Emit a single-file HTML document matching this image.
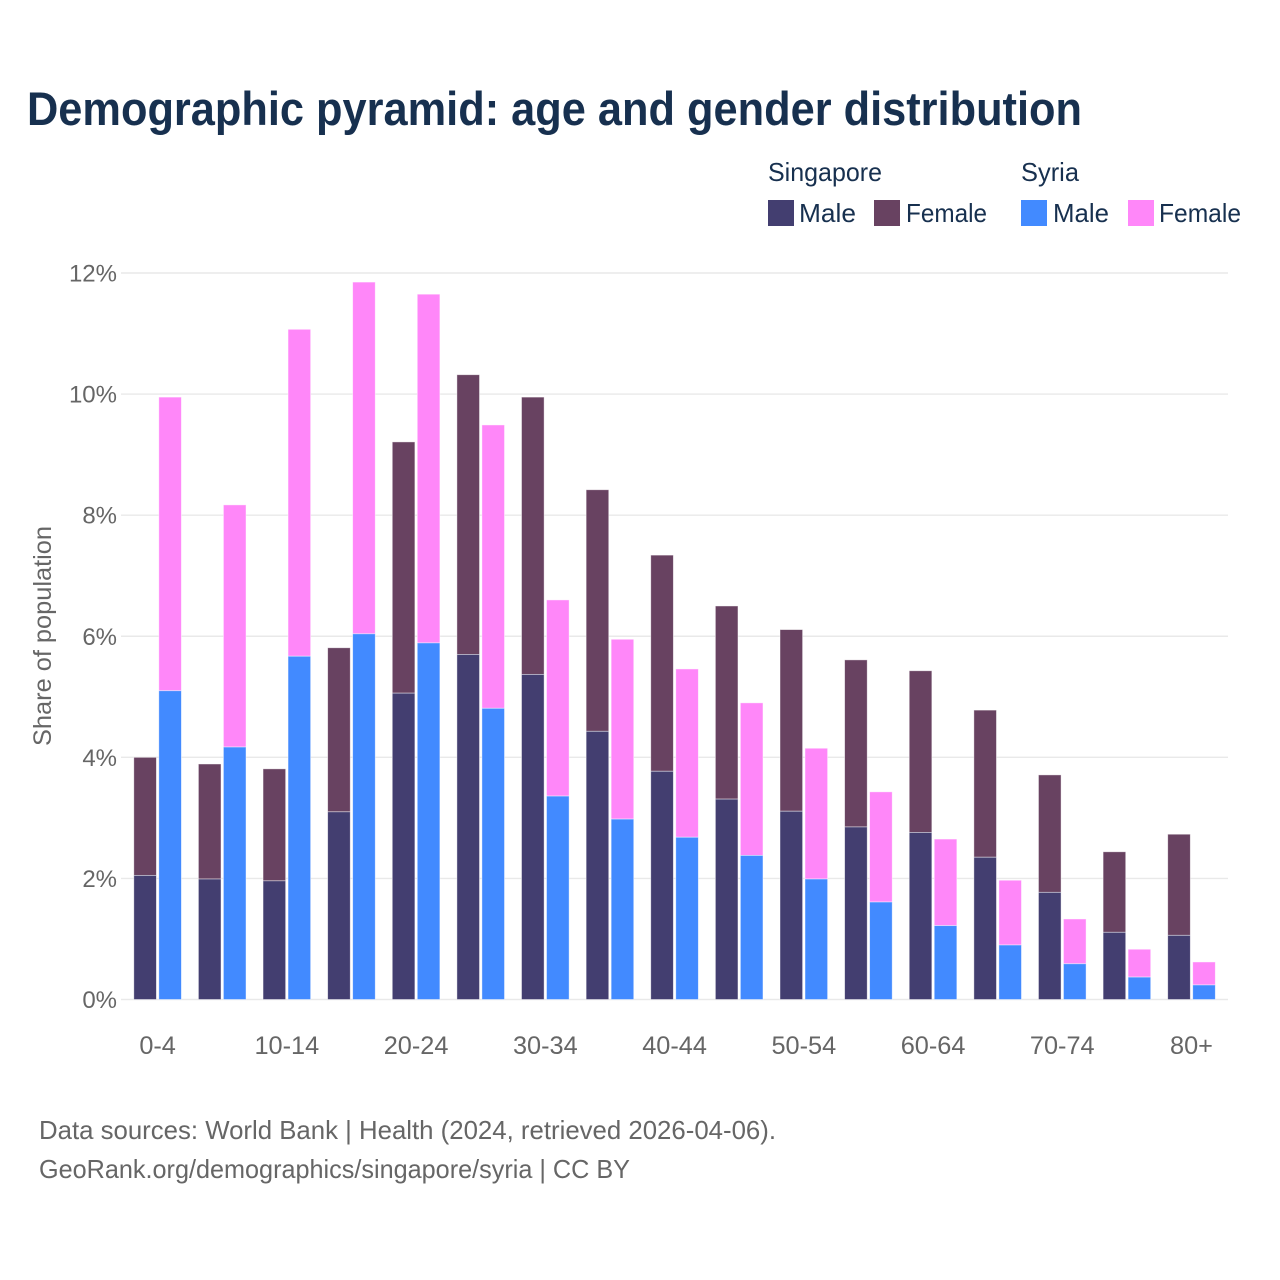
<!DOCTYPE html>
<html lang="en">
<head>
<meta charset="utf-8">
<title>Demographic pyramid</title>
<style>
html,body{margin:0;padding:0;background:#fff;}
svg{display:block;font-family:"Liberation Sans",sans-serif;}
</style>
</head>
<body>
<svg id="chart" xmlns="http://www.w3.org/2000/svg" width="1280" height="1280" viewBox="0 0 1280 1280">
<rect width="1280" height="1280" fill="#ffffff"/>
<text x="27" y="125" font-size="47" font-weight="700" fill="#17304f" textLength="1055" lengthAdjust="spacingAndGlyphs">Demographic pyramid: age and gender distribution</text>
<g font-size="26" fill="#17304f">
<text x="768" y="181" textLength="114" lengthAdjust="spacingAndGlyphs">Singapore</text>
<text x="1021" y="181" textLength="58" lengthAdjust="spacingAndGlyphs">Syria</text>
<rect x="768" y="200" width="26" height="26" fill="#433e70"/>
<text x="799" y="222" textLength="57" lengthAdjust="spacingAndGlyphs">Male</text>
<rect x="874" y="200" width="26" height="26" fill="#684261"/>
<text x="906" y="222" textLength="81" lengthAdjust="spacingAndGlyphs">Female</text>
<rect x="1021" y="200" width="26" height="26" fill="#428aff"/>
<text x="1053" y="222" textLength="56" lengthAdjust="spacingAndGlyphs">Male</text>
<rect x="1128" y="200" width="26" height="26" fill="#ff87f9"/>
<text x="1159" y="222" textLength="82" lengthAdjust="spacingAndGlyphs">Female</text>
</g>
<g id="grid"></g>
<g id="bars"></g>
<g id="yticks"></g>
<g id="xticks"></g>
<text transform="translate(51,746) rotate(-90)" font-size="25" fill="#666666" textLength="220" lengthAdjust="spacingAndGlyphs">Share of population</text>
<text x="39" y="1139" font-size="26" fill="#666666" textLength="737" lengthAdjust="spacingAndGlyphs">Data sources: World Bank | Health (2024, retrieved 2026-04-06).</text>
<text x="39" y="1178" font-size="26" fill="#666666" textLength="591" lengthAdjust="spacingAndGlyphs">GeoRank.org/demographics/singapore/syria | CC BY</text>
</svg>
<script>
const categories = ['0-4','5-9','10-14','15-19','20-24','25-29','30-34','35-39','40-44','45-49','50-54','55-59','60-64','65-69','70-74','75-79','80+'];
const singaporeMale = [2.05,1.99,1.96,3.10,5.06,5.70,5.37,4.43,3.77,3.31,3.11,2.85,2.76,2.35,1.77,1.11,1.06];
const singaporeFemale = [1.95,1.90,1.85,2.71,4.15,4.62,4.58,3.99,3.57,3.19,3.00,2.76,2.67,2.43,1.94,1.33,1.67];
const syriaMale = [5.10,4.17,5.67,6.04,5.89,4.81,3.36,2.98,2.68,2.38,1.99,1.61,1.22,0.90,0.59,0.37,0.24];
const syriaFemale = [4.85,4.00,5.40,5.81,5.76,4.68,3.24,2.97,2.78,2.52,2.16,1.82,1.43,1.07,0.74,0.46,0.38];
const yTicks = [0,2,4,6,8,10,12];
const xTickLabels = ['0-4','10-14','20-24','30-34','40-44','50-54','60-64','70-74','80+'];

const NS = 'http://www.w3.org/2000/svg';
const yScale = v => 999.5 - v * (726.5 / 12);
const xCenter = i => 157.6 + i * 64.62;
const BAR_W = 22.6;
const BAR_GAP = 2.4;

function mk(tag, attrs, parent) {
  const el = document.createElementNS(NS, tag);
  for (const k in attrs) el.setAttribute(k, attrs[k]);
  parent.appendChild(el);
  return el;
}

const gridG = document.getElementById('grid');
const yG = document.getElementById('yticks');
yTicks.forEach(t => {
  const line = mk('line', {x1: 121, x2: 1228, y1: yScale(t), y2: yScale(t), stroke: '#e9e9e9', 'stroke-width': 1.4}, gridG);
  
  
  const label = mk('text', {x: 117, y: yScale(t) + 8.5, 'text-anchor': 'end', 'font-size': 24, fill: '#666666'}, yG);
  
  
  label.textContent = t + '%';
});

const barsG = document.getElementById('bars');
function drawStack(i, x, male, female, maleColor, femaleColor) {
  const yBase = yScale(0);
  const yMale = yScale(male);
  const yTotal = yScale(male + female);
  const femaleRect = mk('rect', {x: x, y: yTotal, width: BAR_W, height: yMale - yTotal, fill: femaleColor, stroke: '#ffffff', 'stroke-opacity': 0.55, 'stroke-width': 0.8}, barsG);
  
  
  const maleRect = mk('rect', {x: x, y: yMale, width: BAR_W, height: yBase - yMale, fill: maleColor, stroke: '#ffffff', 'stroke-opacity': 0.55, 'stroke-width': 0.8}, barsG);
  
  
}
categories.forEach((c, i) => {
  const cx = xCenter(i);
  drawStack(i, cx - BAR_GAP / 2 - BAR_W, singaporeMale[i], singaporeFemale[i], '#433e70', '#684261');
  drawStack(i, cx + BAR_GAP / 2, syriaMale[i], syriaFemale[i], '#428aff', '#ff87f9');
});

const xG = document.getElementById('xticks');
xTickLabels.forEach(lbl => {
  const i = categories.indexOf(lbl);
  const t = mk('text', {x: xCenter(i), y: 1054, 'text-anchor': 'middle', 'font-size': 25.3, fill: '#666666'}, xG);
  
  
  t.textContent = lbl;
});
</script>
</body>
</html>
